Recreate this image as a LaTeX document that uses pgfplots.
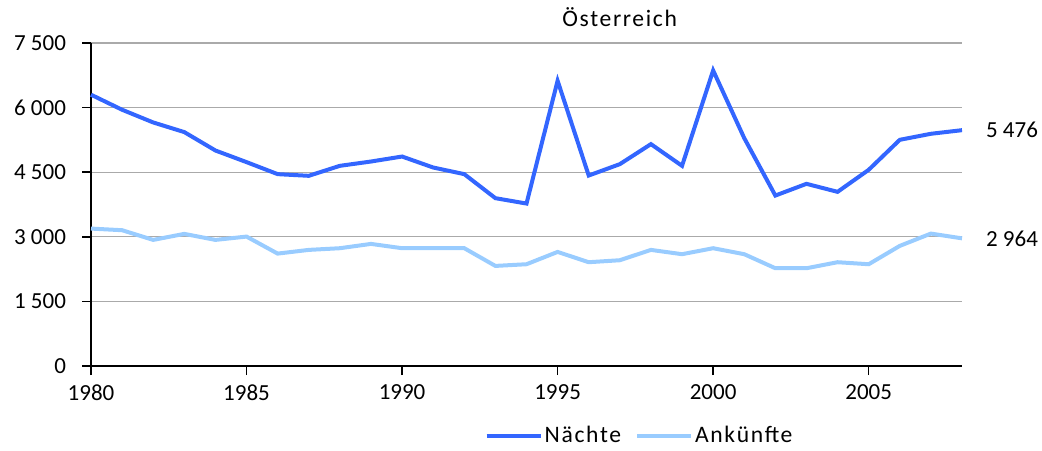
\documentclass[border=0pt]{standalone}
\usepackage{pgfplots}
\pgfplotsset{compat=1.18}
\usepackage{fontspec}
\setmainfont{Carlito}
\newfontfamily\spaced[LetterSpace=7]{Carlito}
\definecolor{naechte}{RGB}{51,102,255}
\definecolor{ankuenfte}{RGB}{153,204,255}
\definecolor{gridgray}{RGB}{170,170,170}
\begin{document}
\fontsize{11.5pt}{13pt}\selectfont
\begin{tikzpicture}
\path[use as bounding box] (-45.5pt,-42pt) rectangle (475.5pt,183pt);
\begin{axis}[
  at={(0,0)}, anchor=south west,
  scale only axis,
  width=435.5pt, height=161.5pt,
  xmin=1980, xmax=2008,
  ymin=0, ymax=7500,
  xtick={1980,1985,1990,1995,2000,2005},
  ytick={0,1500,3000,4500,6000,7500},
  axis lines=left,
  axis line style={-, line width=0.8pt, black},
  tick style={line width=0.8pt, black},
  major tick length=4.5pt,
  tick align=outside,
  ymajorgrids,
  grid style={line width=0.6pt, gridgray},
  /pgf/number format/assume math mode=true,
  /pgf/number format/1000 sep={\ },
  xticklabel={\pgfmathprintnumber[1000 sep={}]{\tick}},
  yticklabel style={xshift=-4pt},
  xticklabel style={yshift=-1pt},
  ticklabel style={font=\fontsize{11.5pt}{13pt}\selectfont},
  title={Österreich},
  title style={at={(rel axis cs:0.607,1)}, anchor=south, yshift=-2pt, font=\spaced\fontsize{11.8pt}{13pt}\selectfont},
  legend style={at={(rel axis cs:0.631,-0.217)}, anchor=center, draw=none, fill=none,
    legend columns=2, font=\spaced\fontsize{11.8pt}{13pt}\selectfont,
    /tikz/every even column/.append style={column sep=5pt},
    /tikz/every odd column/.append style={column sep=-1pt}},
  legend image code/.code={\draw[#1] (0pt,0pt) -- (27pt,0pt);},
  clip=false,
]
\addplot[naechte, line width=2pt] coordinates {
(1980,6300) (1981,5950) (1982,5655) (1983,5431) (1984,5004) (1985,4734)
(1986,4455) (1987,4416) (1988,4648) (1989,4748) (1990,4864) (1991,4609)
(1992,4455) (1993,3897) (1994,3772) (1995,6623) (1996,4423) (1997,4687)
(1998,5152) (1999,4648) (2000,6863) (2001,5291) (2002,3958) (2003,4230)
(2004,4044) (2005,4555) (2006,5252) (2007,5392) (2008,5476)};
\addlegendentry{Nächte}
\addplot[ankuenfte, line width=2pt] coordinates {
(1980,3191) (1981,3153) (1982,2928) (1983,3068) (1984,2928) (1985,3005)
(1986,2610) (1987,2696) (1988,2735) (1989,2835) (1990,2735) (1991,2735)
(1992,2735) (1993,2324) (1994,2363) (1995,2649) (1996,2410) (1997,2456)
(1998,2696) (1999,2596) (2000,2735) (2001,2596) (2002,2270) (2003,2270)
(2004,2410) (2005,2363) (2006,2789) (2007,3075) (2008,2964)};
\addlegendentry{Ankünfte}
\node[anchor=west, xshift=8pt] at (axis cs:2008,5476) {5\ 476};
\node[anchor=west, xshift=8pt] at (axis cs:2008,2964) {2\ 964};
\end{axis}
\end{tikzpicture}
\end{document}
